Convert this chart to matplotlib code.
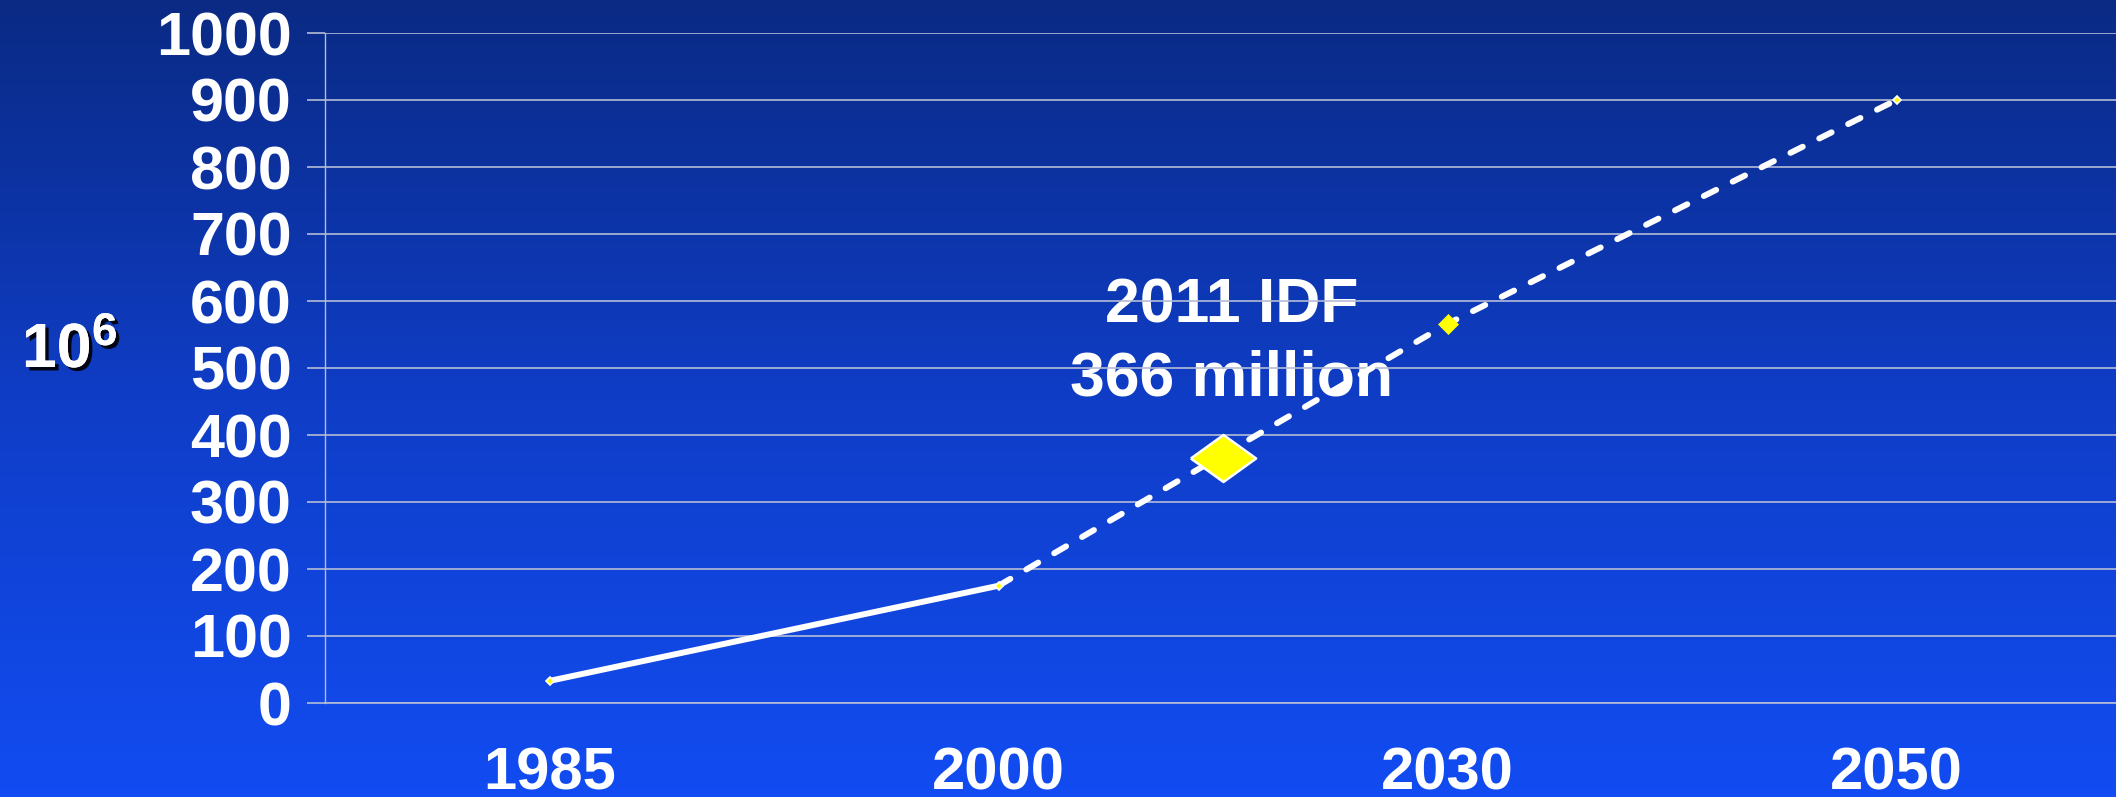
import numpy as np
import matplotlib
matplotlib.use("Agg")
import matplotlib.pyplot as plt
import matplotlib.patheffects as pe
from matplotlib.colors import LinearSegmentedColormap

plt.rcParams['font.family'] = ['Liberation Sans', 'DejaVu Sans']
plt.rcParams['font.weight'] = 'bold'

# population with diabetes, millions
years = ['1985', '2000', '2030', '2050']
population = [33, 175, 566, 900]
idf_label = '2011 IDF\n366 million'
idf_value = 366

y_ticks = list(range(0, 1001, 100))

grid_col = '#b4bcd6'

fig = plt.figure(figsize=(21.16, 7.97), dpi=100)

# vertical blue gradient behind everything
bg = fig.add_axes([0, 0, 1, 1], zorder=-10)
cmap = LinearSegmentedColormap.from_list('bg', ['#0a2a84', '#0f3dc6', '#124cf2'])
bg.imshow(np.linspace(0, 1, 256).reshape(-1, 1), aspect='auto', cmap=cmap,
          extent=[0, 1, 0, 1])
bg.set_axis_off()

ax = fig.add_axes([325 / 2116, 94 / 797, 1796 / 2116, 670 / 797])
ax.set_facecolor('none')
ax.set_xlim(-0.5, len(years) - 0.5)
ax.set_ylim(0, 1000)

x = np.arange(len(years))
ax.plot(x[:2], population[:2], color='white', lw=4.3, solid_capstyle='round', zorder=3)
ax.plot(x[1:], population[1:], color='white', lw=4.3, linestyle=(0, (2.3, 3.1)),
        dash_capstyle='round', zorder=3)

# small point markers
for i in [0, 1, 3]:
    ax.plot(x[i], population[i], marker='D', ms=4.5, mfc='#ffff00', mec='white',
            mew=1.2, zorder=4)
ax.plot(x[2], population[2], marker='D', ms=10.5, mfc='#ffff00', mec='#ffff00',
        mew=0.5, zorder=4)

# IDF 2011 estimate, halfway between 2000 and 2030
idf_x = (x[1] + x[2]) / 2
wide_diamond = [(-1, 0), (0, 0.72), (1, 0), (0, -0.72), (-1, 0)]
ax.plot(idf_x, idf_value, marker=wide_diamond, ms=47, mfc='#ffff00', mec='white',
        mew=1.8, zorder=5)
ax.text(idf_x + 0.02, 538, idf_label, ha='center', va='center', fontsize=45,
        color='white', fontweight='bold', linespacing=1.3, zorder=1)

ax.set_xticks(x)
ax.set_xticklabels(years)
ax.set_yticks(y_ticks)
ax.tick_params(axis='x', length=0, pad=31, labelsize=43, labelcolor='white')
ax.tick_params(axis='y', length=13, width=1.2, color=grid_col, pad=11,
               labelsize=44, labelcolor='white')
ax.grid(axis='y', color=grid_col, lw=1.2)
ax.set_axisbelow('line')

for s in ['top', 'right']:
    ax.spines[s].set_visible(False)
ax.spines['left'].set_color(grid_col)
ax.spines['left'].set_linewidth(1.0)
ax.spines['bottom'].set_color(grid_col)
ax.spines['bottom'].set_linewidth(1.2)

shadow = [pe.withSimplePatchShadow(offset=(2.5, -2.5), shadow_rgbFace='black', alpha=0.9),
          pe.Normal()]
fig.text(22 / 2116, 1 - 367 / 797, '10', fontsize=45, color='white', fontweight='bold',
         ha='left', va='baseline', path_effects=shadow)
fig.text(92 / 2116, 1 - 345 / 797, '6', fontsize=33, color='white', fontweight='bold',
         ha='left', va='baseline', path_effects=shadow)

fig.savefig('out.png', dpi=100)
